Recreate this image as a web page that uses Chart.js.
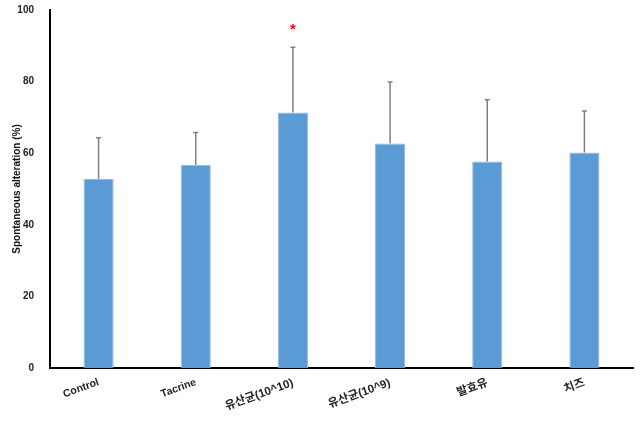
<!DOCTYPE html>
<html>
<head>
<meta charset="utf-8">
<script src="https://cdn.jsdelivr.net/npm/chart.js@4"></script>
<style>
  html, body { margin: 0; padding: 0; background: #fff; overflow: hidden; }
  #wrap { width: 643px; height: 425px; margin-top: -4px; }
</style>
</head>
<body>
<div id="wrap"><canvas id="chart"></canvas></div>
<script>
const groups = ["Control", "Tacrine", "유산균(10^10)", "유산균(10^9)", "발효유", "치즈"];
const meanValues = [52.8, 56.8, 71.4, 62.7, 57.7, 60.2];
const sdValues = [11.5, 9.0, 18.2, 17.2, 17.2, 11.6];
const marks = ["", "", "*", "", "", ""];
const markLevel = 95;

const fontFamily = "Arial, 'Liberation Sans', 'Noto Sans CJK KR', sans-serif";

/* error bars (upper only) + significance marks */
const errorBars = {
  id: "errorBars",
  afterDatasetsDraw(chart) {
    const ctx = chart.ctx;
    const meta = chart.getDatasetMeta(0);
    const yScale = chart.scales.y;
    ctx.save();
    ctx.strokeStyle = "#808080";
    ctx.lineWidth = 1.5;
    meta.data.forEach((bar, i) => {
      const top = yScale.getPixelForValue(meanValues[i] + sdValues[i]);
      const base = yScale.getPixelForValue(meanValues[i]);
      ctx.beginPath();
      ctx.moveTo(bar.x, base);
      ctx.lineTo(bar.x, top);
      ctx.moveTo(bar.x - 2.5, top);
      ctx.lineTo(bar.x + 2.5, top);
      ctx.stroke();

      if (marks[i]) {
        ctx.fillStyle = "#ff0000";
        ctx.font = "bold 15px " + fontFamily;
        ctx.textAlign = "center";
        ctx.textBaseline = "middle";
        ctx.fillText(marks[i], bar.x, yScale.getPixelForValue(markLevel) + 2);
      }
    });
    ctx.restore();
  }
};

new Chart(document.querySelector("#chart"), {
  type: "bar",
  data: {
    labels: groups,
    datasets: [
      {
        data: meanValues,
        backgroundColor: "#5B9BD5",
        borderColor: "#8FBCE6",
        borderWidth: 1,
        categoryPercentage: 1,
        barPercentage: 0.31
      }
    ]
  },
  options: {
    responsive: true,
    maintainAspectRatio: false,
    animation: false,
    layout: {
      padding: { top: 0, right: 10, left: 0, bottom: 0 }
    },
    plugins: {
      legend: { display: false },
      tooltip: { enabled: false }
    },
    scales: {
      x: {
        grid: { display: false },
        border: { display: true, color: "#000", width: 2 },
        ticks: {
          color: "#222",
          font: (c) => {
            const label = groups[c.index] || "";
            const korean = /[\uac00-\ud7a3]/.test(label);
            return { family: fontFamily, size: korean ? 11.5 : 10.5, weight: "bold" };
          },
          minRotation: 20,
          maxRotation: 20,
          padding: 0
        },
        afterFit(scale) { scale.height = 53; }
      },
      y: {
        min: 0,
        max: 100,
        grid: { display: false },
        border: { display: true, color: "#000", width: 2 },
        ticks: {
          stepSize: 20,
          color: "#222",
          padding: 8,
          font: { family: fontFamily, size: 10, weight: "bold" }
        },
        title: {
          display: true,
          text: "Spontaneous alteration (%)",
          color: "#111",
          font: { family: fontFamily, size: 10, weight: "bold" },
          padding: { top: 11, bottom: 6 }
        },
        afterFit(scale) { scale.width = 50; }
      }
    }
  },
  plugins: [errorBars]
});
</script>
</body>
</html>
